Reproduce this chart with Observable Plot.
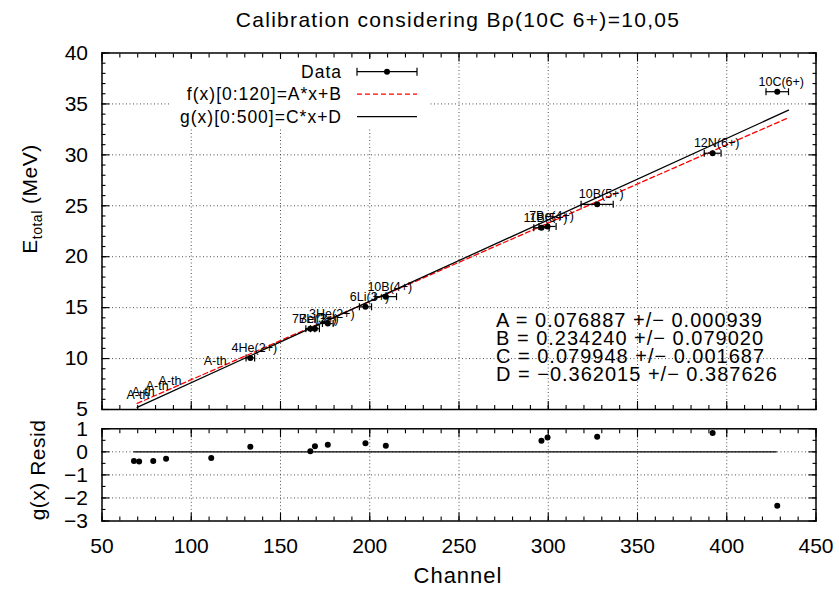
<!DOCTYPE html>
<html><head><meta charset="utf-8">
<script src="https://cdn.jsdelivr.net/npm/d3@7"></script>
<script src="https://cdn.jsdelivr.net/npm/@observablehq/plot@0.6"></script>
<style>
body{margin:0;background:#fff;font-family:"Liberation Sans",Arial,sans-serif;}
#wrap{position:relative;width:839px;height:589px;overflow:hidden;}
#wrap > svg{display:block;}
#overlay{position:absolute;left:0;top:0;pointer-events:none;}
</style></head><body><div id="wrap"></div>
<script>
// ---- data ----
const labels     = ["A-th","A-th","A-th","A-th","A-th","4He(2+)","7Be(3+)","7Li(3+)","3He(2+)","6Li(3+)","10B(4+)","11B(5+)","7Be(4+)","10B(5+)","12N(6+)","10C(6+)"];
const channel    = [67.9, 70.8, 78.7, 85.9, 111.2, 133.1, 166.7, 169.3, 176.5, 197.6, 209.0, 296.2, 299.6, 327.4, 392.1, 428.3];
const energy     = [5.46, 5.72, 6.33, 6.81, 8.80, 10.06, 12.94, 12.93, 13.44, 15.08, 16.08, 22.84, 22.97, 25.14, 30.16, 36.20];
const channelErr = [null, null, null, null, null, 2.4, 2.5, 2.5, 3.0, 3.4, 6.0, 4.3, 4.8, 9.0, 4.7, 6.3];
const residual   = [-0.40, -0.42, -0.40, -0.30, -0.27, 0.22, 0.03, 0.24, 0.31, 0.37, 0.27, 0.48, 0.62, 0.66, 0.82, -2.34];

const fitA = 0.076887, fitAerr = "0.000939";
const fitB = 0.234240, fitBerr = "0.079020";
const fitC = 0.079948, fitCerr = "0.001687";
const fitD = -0.362015, fitDerr = "0.387626";
const fitRange = [69.7, 434.6];

const xMajor = [50,100,150,200,250,300,350,400,450];
const xMinor = d3.range(50, 451, 10);
const xGrid  = [100,150,200,250,300,350,400];
const yMajor = [5,10,15,20,25,30,35,40];
const yMinor = d3.range(5, 41, 1);
const yGrid  = [10,15,20,25,30,35];
const rMajor = [-3,-2,-1,0,1];
const rMinor = [-3,-2.5,-2,-1.5,-1,-0.5,0,0.5,1];
const rGrid  = [-2,-1,0];

const titleText = "Calibration considering B\u03c1(10C 6+)=10,05";

// ---- tables ----
const rows = channel.map((c, i) => ({c, e: energy[i], err: channelErr[i], label: labels[i], r: residual[i]}));
const measured = rows.filter(d => d.err != null);

const FONT = '"Liberation Sans", Arial, Helvetica, sans-serif';
const capSymbol = {draw(ctx, size) { const h = Math.sqrt(size / Math.PI); ctx.moveTo(0, -h); ctx.lineTo(0, h); }};
const gridStyle = {stroke: "#333", strokeOpacity: 0.85, strokeDasharray: "1,2.5", strokeWidth: 1};
const fmt = d => d < 0 ? "\u2212" + Math.abs(d) : String(d);

function tickMarks(axis, anchor, values, size) {
  return axis(values, {anchor, tickSize: -size, fill: "none", label: null, strokeWidth: 1.1});
}

const mainPlot = Plot.plot({
  width: 839, height: 420,
  marginTop: 52.5, marginBottom: 11, marginLeft: 101.5, marginRight: 23.5,
  style: {fontFamily: FONT, fontSize: "21px", color: "black", background: "white", overflow: "visible"},
  x: {domain: [50, 450]},
  y: {domain: [5, 40]},
  marks: [
    Plot.gridX(xGrid, gridStyle),
    Plot.gridY(yGrid, gridStyle),
    Plot.line(fitRange, {x: d => d, y: d => fitA * d + fitB, stroke: "#ff0000", strokeWidth: 1.3, strokeDasharray: "5,3"}),
    Plot.line(fitRange, {x: d => d, y: d => fitC * d + fitD, stroke: "black", strokeWidth: 1.3}),
    Plot.ruleY(measured, {y: "e", x1: d => d.c - d.err, x2: d => d.c + d.err, stroke: "black", strokeWidth: 1.2}),
    Plot.dot(measured, {x: d => d.c - d.err, y: "e", symbol: capSymbol, r: 3.5, stroke: "black", strokeWidth: 1.2}),
    Plot.dot(measured, {x: d => d.c + d.err, y: "e", symbol: capSymbol, r: 3.5, stroke: "black", strokeWidth: 1.2}),
    Plot.dot(measured, {x: "c", y: "e", r: 3, fill: "black"}),
    Plot.text(rows, {x: "c", y: "e", text: "label", dx: 4, dy: -10, fontSize: 12.5, fill: "black"}),
    tickMarks(Plot.axisX, "bottom", xMajor, 8),
    tickMarks(Plot.axisX, "top", xMajor, 8),
    tickMarks(Plot.axisX, "bottom", xMinor, 4),
    tickMarks(Plot.axisX, "top", xMinor, 4),
    tickMarks(Plot.axisY, "left", yMajor, 8),
    tickMarks(Plot.axisY, "right", yMajor, 8),
    tickMarks(Plot.axisY, "left", yMinor, 4),
    tickMarks(Plot.axisY, "right", yMinor, 4),
    Plot.axisY(yMajor, {anchor: "left", tickSize: 0, tickPadding: 14, label: null, tickFormat: fmt}),
    Plot.frame({stroke: "black", strokeWidth: 1.5})
  ]
});

const residPlot = Plot.plot({
  width: 839, height: 169,
  marginTop: 8.3, marginBottom: 68.5, marginLeft: 101.5, marginRight: 23.5,
  style: {fontFamily: FONT, fontSize: "21px", color: "black", background: "white", overflow: "visible"},
  x: {domain: [50, 450]},
  y: {domain: [-3, 1]},
  marks: [
    Plot.gridX(xGrid, gridStyle),
    Plot.gridY(rGrid, gridStyle),
    Plot.ruleY([0], {x1: d3.min(channel), x2: d3.max(channel), stroke: "black", strokeWidth: 1.2}),
    Plot.dot(rows, {x: "c", y: "r", r: 3, fill: "black"}),
    tickMarks(Plot.axisX, "bottom", xMajor, 8),
    tickMarks(Plot.axisX, "top", xMajor, 8),
    tickMarks(Plot.axisX, "bottom", xMinor, 4),
    tickMarks(Plot.axisX, "top", xMinor, 4),
    tickMarks(Plot.axisY, "left", rMajor, 8),
    tickMarks(Plot.axisY, "right", rMajor, 8),
    tickMarks(Plot.axisY, "left", rMinor, 4),
    tickMarks(Plot.axisY, "right", rMinor, 4),
    Plot.axisY(rMajor, {anchor: "left", tickSize: 0, tickPadding: 14, label: null, tickFormat: fmt}),
    Plot.axisX(xMajor, {anchor: "bottom", tickSize: 0, tickPadding: 17, label: null, tickFormat: fmt}),
    Plot.frame({stroke: "black", strokeWidth: 1.5})
  ]
});

const wrap = document.getElementById("wrap");
wrap.appendChild(mainPlot);
wrap.appendChild(residPlot);

// ---- titles, legend and fit parameters (text overlay) ----
const params = [
  `A = ${fitA.toFixed(6)} +/\u2212 ${fitAerr}`,
  `B = ${fitB.toFixed(6)} +/\u2212 ${fitBerr}`,
  `C = ${fitC.toFixed(6)} +/\u2212 ${fitCerr}`,
  `D = ${fitD < 0 ? "\u2212" : ""}${Math.abs(fitD).toFixed(6)} +/\u2212 ${fitDerr}`
];
const legendItems = ["Data", "f(x)[0:120]=A*x+B", "g(x)[0:500]=C*x+D"];

const ns = "http://www.w3.org/2000/svg";
const ov = document.createElementNS(ns, "svg");
ov.setAttribute("id", "overlay");
ov.setAttribute("width", 839);
ov.setAttribute("height", 589);
ov.setAttribute("font-family", FONT);
ov.innerHTML = `
  <text x="458" y="27" text-anchor="middle" font-size="21" letter-spacing="1.3">${titleText}</text>
  <text transform="translate(36.5,199) rotate(-90)" text-anchor="middle" font-size="21" letter-spacing="0.5">E<tspan dy="5" font-size="14">total</tspan><tspan dy="-5"> (MeV)</tspan></text>
  <text transform="translate(45,470) rotate(-90)" text-anchor="middle" font-size="21" letter-spacing="0.5">g(x) Resid</text>
  <text x="458" y="583" text-anchor="middle" font-size="22" letter-spacing="1">Channel</text>
  <g font-size="20" letter-spacing="1">
    ${params.map((p, i) => `<text x="496" y="${327 + i * 18}">${p}</text>`).join("")}
  </g>
  <g>
    <rect x="170" y="59" width="258" height="70" fill="white"/>
    <g font-size="17.5" letter-spacing="1" text-anchor="end">
      ${legendItems.map((t, i) => `<text x="342" y="${77.5 + i * 22.5}">${t}</text>`).join("")}
    </g>
    <line x1="357" x2="417" y1="71.7" y2="71.7" stroke="black" stroke-width="1.2"/>
    <line x1="357" x2="357" y1="67.7" y2="75.7" stroke="black" stroke-width="1.2"/>
    <line x1="417" x2="417" y1="67.7" y2="75.7" stroke="black" stroke-width="1.2"/>
    <circle cx="387" cy="71.7" r="3" fill="black"/>
    <line x1="357" x2="417" y1="94.2" y2="94.2" stroke="#ff0000" stroke-width="1.3" stroke-dasharray="5,3"/>
    <line x1="357" x2="417" y1="116.7" y2="116.7" stroke="black" stroke-width="1.3"/>
  </g>`;
wrap.appendChild(ov);
</script>
</body></html>
